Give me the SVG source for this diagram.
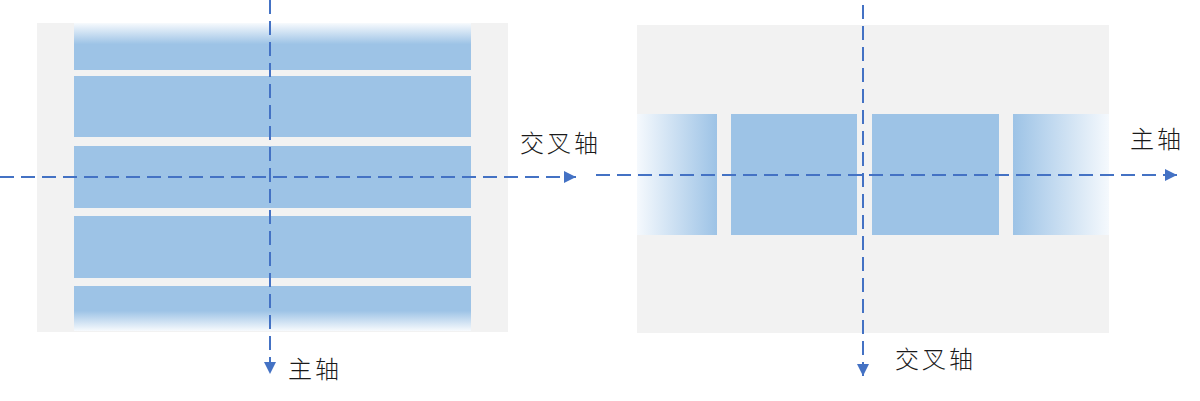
<svg xmlns="http://www.w3.org/2000/svg" width="1200" height="401" viewBox="0 0 1200 401">
<defs>
<style>
.bg{fill:#f2f2f2}
.blue{fill:#9dc3e6}
.axis{stroke:#4472c4;stroke-width:2;stroke-dasharray:14 7;fill:none}
.lbl{font-family:"Noto Sans CJK SC","Noto Sans",sans-serif;font-size:24px;font-weight:300;fill:#1a1a1a;letter-spacing:3px}
</style>
<linearGradient id="fadeTop" x1="0" y1="0" x2="0" y2="1">
<stop offset="0" stop-color="#f7fafd"/>
<stop offset="0.45" stop-color="#9dc3e6"/>
<stop offset="1" stop-color="#9dc3e6"/>
</linearGradient>
<linearGradient id="fadeBottom" x1="0" y1="0" x2="0" y2="1">
<stop offset="0" stop-color="#9dc3e6"/>
<stop offset="0.55" stop-color="#9dc3e6"/>
<stop offset="1" stop-color="#f7fafd"/>
</linearGradient>
<linearGradient id="fadeLeft" x1="0" y1="0" x2="1" y2="0">
<stop offset="0" stop-color="#f5f9fd"/>
<stop offset="1" stop-color="#9dc3e6"/>
</linearGradient>
<linearGradient id="fadeRight" x1="0" y1="0" x2="1" y2="0">
<stop offset="0" stop-color="#9dc3e6"/>
<stop offset="1" stop-color="#f5f9fd"/>
</linearGradient>
<marker id="arr" viewBox="0 0 10 10" refX="10" refY="5" markerWidth="6" markerHeight="6" orient="auto" markerUnits="strokeWidth">
<path d="M0,0 L10,5 L0,10 z" fill="#4472c4"/>
</marker>
</defs>

<g id="left-panel">
<rect class="bg" x="37" y="23" width="471" height="309"/>
<rect x="74" y="23" width="397" height="47" fill="url(#fadeTop)"/>
<rect class="blue" x="74" y="76" width="397" height="61"/>
<rect class="blue" x="74" y="146" width="397" height="62"/>
<rect class="blue" x="74" y="216" width="397" height="62"/>
<rect x="74" y="286" width="397" height="45" fill="url(#fadeBottom)"/>
</g>

<g id="right-panel">
<rect class="bg" x="637" y="25" width="472" height="308"/>
<rect x="637" y="114" width="80" height="121" fill="url(#fadeLeft)"/>
<rect class="blue" x="731" y="114" width="126" height="121"/>
<rect class="blue" x="872" y="114" width="127" height="121"/>
<rect x="1013" y="114" width="96" height="121" fill="url(#fadeRight)"/>
</g>

<g id="connectors">
<line class="axis" x1="270" y1="0" x2="270" y2="374" marker-end="url(#arr)"/>
<line class="axis" x1="0" y1="177" x2="576" y2="177" marker-end="url(#arr)"/>
<line class="axis" x1="863" y1="5" x2="863" y2="376" marker-end="url(#arr)"/>
<line class="axis" x1="596" y1="175" x2="1177" y2="175" marker-end="url(#arr)"/>
</g>

<g id="labels">
<text class="lbl" x="520" y="152">交叉轴</text>
<text class="lbl" x="288" y="378">主轴</text>
<text class="lbl" x="1130" y="148">主轴</text>
<text class="lbl" x="895" y="368">交叉轴</text>
</g>
</svg>
